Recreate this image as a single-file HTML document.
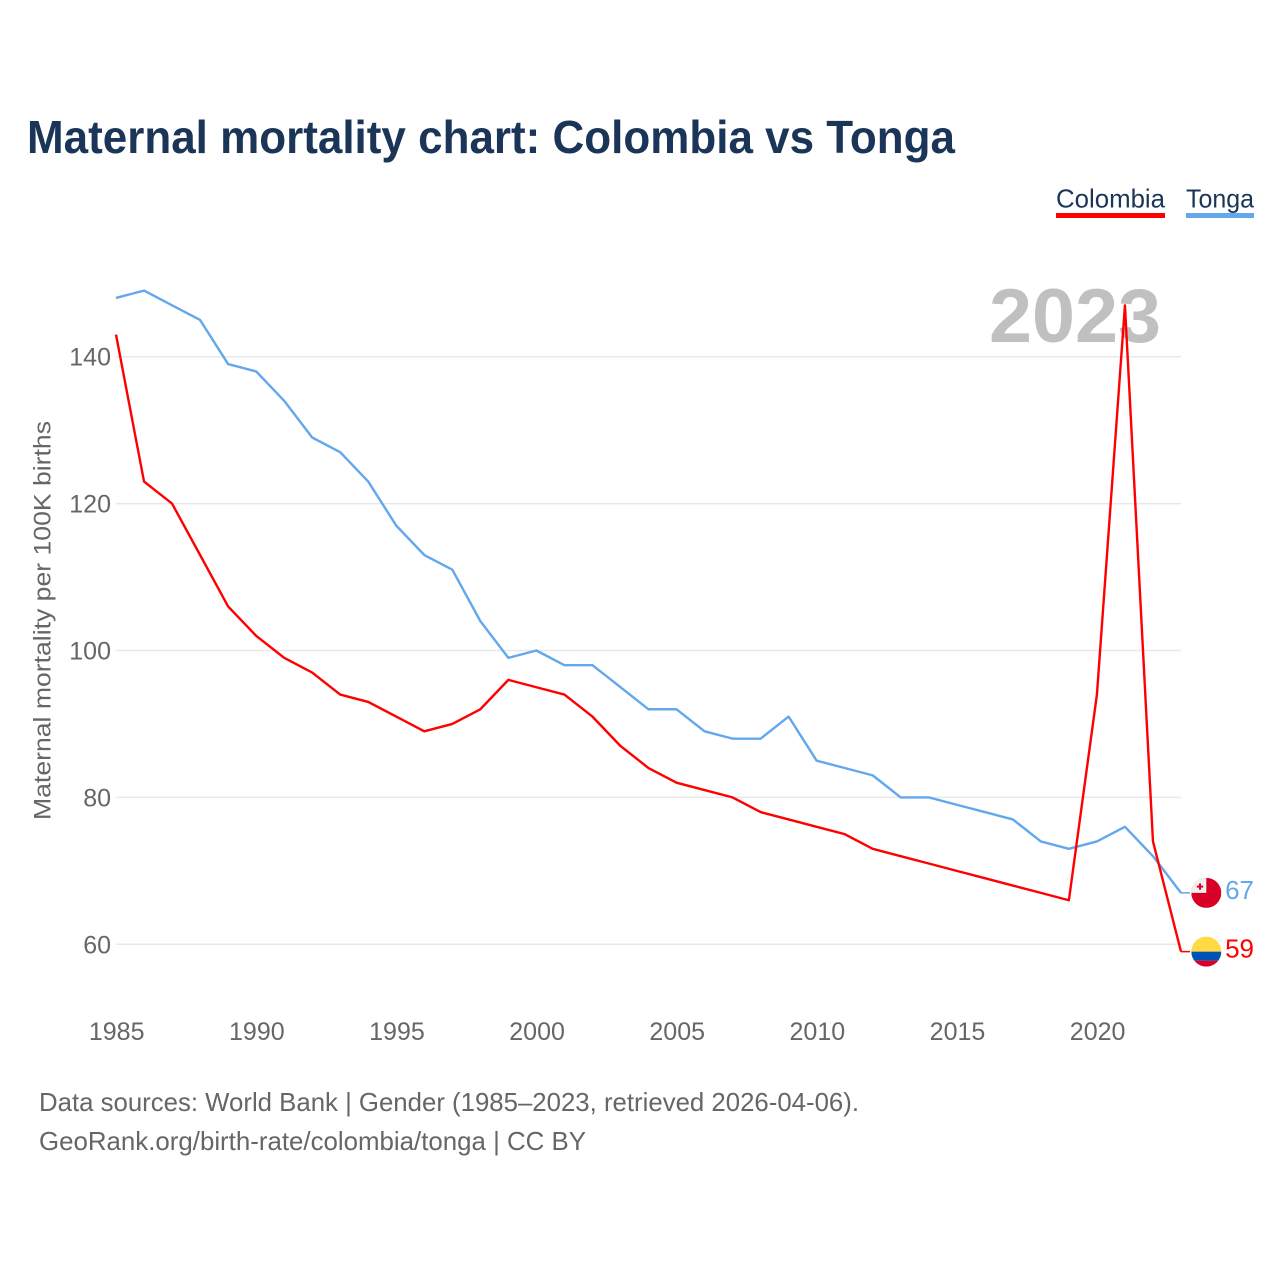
<!DOCTYPE html>
<html>
<head>
<meta charset="utf-8">
<title>Maternal mortality chart: Colombia vs Tonga</title>
<style>
html,body{margin:0;padding:0;background:#fff;width:1280px;height:1280px;overflow:hidden}
svg{display:block}
text{font-family:"Liberation Sans",sans-serif}
</style>
</head>
<body>
<svg id="chart" width="1280" height="1280" viewBox="0 0 1280 1280" xmlns="http://www.w3.org/2000/svg">
  <text x="27" y="153" font-size="46" font-weight="700" fill="#1a3557" textLength="928" lengthAdjust="spacingAndGlyphs">Maternal mortality chart: Colombia vs Tonga</text>
  <g>
    <text x="1056" y="207.5" font-size="26" fill="#1a3557" textLength="109" lengthAdjust="spacingAndGlyphs">Colombia</text>
    <rect x="1056" y="213" width="109" height="5" fill="#ff0000"/>
  </g>
  <g>
    <text x="1186" y="207.5" font-size="26" fill="#1a3557" textLength="68" lengthAdjust="spacingAndGlyphs">Tonga</text>
    <rect x="1186" y="213" width="68" height="5" fill="#63a7ec"/>
  </g>
  <g id="grid"></g>
  <text x="1161" y="342" text-anchor="end" font-size="76" font-weight="700" fill="#c0c0c0" textLength="172" lengthAdjust="spacingAndGlyphs">2023</text>
  <g id="xticks"></g>
  <text transform="translate(50.5,820) rotate(-90)" font-size="24.5" fill="#666666" textLength="399" lengthAdjust="spacingAndGlyphs">Maternal mortality per 100K births</text>
  <g id="series"></g>
  <g id="ends"></g>
  <text x="39" y="1111" font-size="26" fill="#666666" textLength="820" lengthAdjust="spacingAndGlyphs">Data sources: World Bank | Gender (1985–2023, retrieved 2026-04-06).</text>
  <text x="39" y="1150" font-size="26" fill="#666666" textLength="547" lengthAdjust="spacingAndGlyphs">GeoRank.org/birth-rate/colombia/tonga | CC BY</text>
</svg>
<script>
const years = [1985,1986,1987,1988,1989,1990,1991,1992,1993,1994,1995,1996,1997,1998,1999,2000,2001,2002,2003,2004,2005,2006,2007,2008,2009,2010,2011,2012,2013,2014,2015,2016,2017,2018,2019,2020,2021,2022,2023];
const colombia = [143,123,120,113,106,102,99,97,94,93,91,89,90,92,96,95,94,91,87,84,82,81,80,78,77,76,75,73,72,71,70,69,68,67,66,94,147,74,59];
const tonga = [148,149,147,145,139,138,134,129,127,123,117,113,111,104,99,100,98,98,95,92,92,89,88,88,91,85,84,83,80,80,79,78,77,74,73,74,76,72,67];
const yTicks = [60,80,100,120,140];
const xTicks = [1985,1990,1995,2000,2005,2010,2015,2020];

const NS = 'http://www.w3.org/2000/svg';
function xScale(v){ return 116 + (v - 1985) * (1181 - 116) / (2023 - 1985); }
function yScale(v){ return 944.3 - (v - 60) * (944.3 - 356.7) / 80; }
function mk(tag, attrs, parent){
  const el = document.createElementNS(NS, tag);
  for (const k in attrs) el.setAttribute(k, attrs[k]);
  parent.appendChild(el);
  return el;
}
const grid = document.getElementById('grid');
yTicks.forEach(function(t){
  const line = mk('line', {x1:116, x2:1181, y1:yScale(t), y2:yScale(t), stroke:'#e9e9e9', 'stroke-width':1.5}, grid);
  
  
  const label = mk('text', {x:111, y:yScale(t)+9, 'text-anchor':'end', 'font-size':25, fill:'#666666'}, grid);
  
  
  label.textContent = t;
});
const xg = document.getElementById('xticks');
xTicks.forEach(function(t){
  const label = mk('text', {x:xScale(t)+0.7, y:1040, 'text-anchor':'middle', 'font-size':25, fill:'#666666'}, xg);
  
  
  label.textContent = t;
});
function linePoints(vals){
  return vals.map(function(v,i){ return xScale(years[i]).toFixed(2) + ',' + yScale(v).toFixed(2); }).join(' ');
}
const sg = document.getElementById('series');
const tongaLine = mk('polyline', {points:linePoints(tonga), fill:'none', stroke:'#63a7ec', 'stroke-width':2.4, 'stroke-linejoin':'round'}, sg);


const colombiaLine = mk('polyline', {points:linePoints(colombia), fill:'none', stroke:'#ff0000', 'stroke-width':2.4, 'stroke-linejoin':'round'}, sg);



const eg = document.getElementById('ends');
function endMarker(vals, color, name, draw){
  const last = vals[vals.length-1];
  const y = yScale(last);
  const x = xScale(years[years.length-1]);
  const conn = mk('line', {x1:x, x2:x+9, y1:y, y2:y, stroke:color, 'stroke-width':1.5}, eg);
  
  
  const flag = mk('g', {}, eg);
  
  
  draw(flag, x + 25.3, y);
  const val = mk('text', {x:1254, y:y+6, 'text-anchor':'end', 'font-size':26, fill:color}, eg);
  
  
  val.textContent = last;
}
let clipId = 0;
function clipped(parent, cx, cy){
  const id = 'flagclip' + (clipId++);
  const cp = mk('clipPath', {id:id}, parent);
  mk('circle', {cx:cx, cy:cy, r:15}, cp);
  return mk('g', {'clip-path':'url(#'+id+')'}, parent);
}
endMarker(tonga, '#63a7ec', 'tonga', function(p,cx,cy){
  const g = clipped(p,cx,cy);
  mk('rect', {x:cx-15, y:cy-15, width:30, height:30, fill:'#d80027'}, g);
  mk('rect', {x:cx-15, y:cy-15, width:15, height:15, fill:'#f0f0f0'}, g);
  mk('rect', {x:cx-7.3, y:cy-9.5, width:2, height:6.4, fill:'#d80027'}, g);
  mk('rect', {x:cx-9.5, y:cy-7.3, width:6.4, height:2, fill:'#d80027'}, g);
});
endMarker(colombia, '#ff0000', 'colombia', function(p,cx,cy){
  const g = clipped(p,cx,cy);
  mk('rect', {x:cx-15, y:cy-15, width:30, height:15, fill:'#ffda44'}, g);
  mk('rect', {x:cx-15, y:cy, width:30, height:9, fill:'#0052b4'}, g);
  mk('rect', {x:cx-15, y:cy+9, width:30, height:6, fill:'#d80027'}, g);
});
</script>
</body>
</html>
